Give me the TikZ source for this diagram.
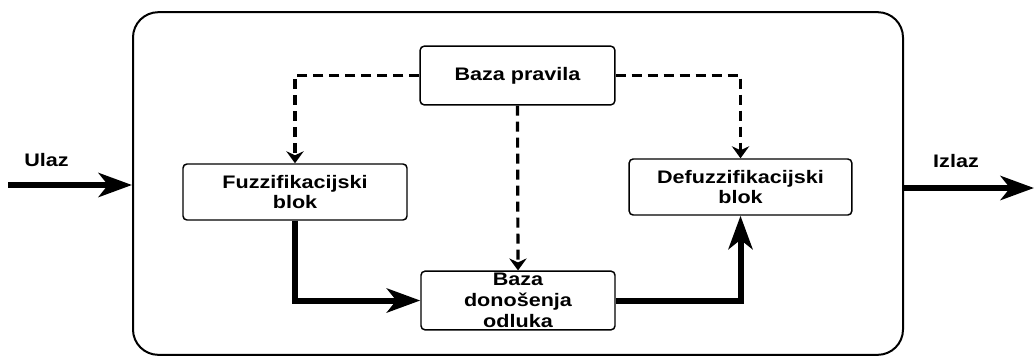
\documentclass[tikz,border=0pt]{standalone}
\usepackage{fontspec}
\newfontfamily\dijagram[FakeStretch=1.19]{Liberation Sans}
\usepackage{tikz}
\usetikzlibrary{positioning}
\usetikzlibrary{arrows.meta}

\begin{document}
\begin{tikzpicture}[
        x=0.75pt, y=-0.75pt,
        every node/.style={font=\dijagram\bfseries\fontsize{13.6}{15.5}\selectfont},
        blok/.style={rectangle, draw=black, line width=1.1pt, rounded corners=3pt,
                     align=center, inner sep=0pt},
        sistem/.style={rectangle, draw=black, line width=1.5pt, rounded corners=19pt,
                       minimum width=577.5pt, minimum height=257pt},
        tok/.style={line width=4.5pt, -{Stealth[length=25pt, width=18pt, inset=7pt]}},
        pravilo/.style={line width=2.4pt, dash pattern=on 7.5pt off 4.5pt,
                        -{Stealth[length=9pt, width=13pt, inset=3pt]}}
    ]
    \useasboundingbox (0,0) rectangle (1034,358);

    % Sistem
    \node[sistem] at (518,183.5) (sistem) {};

    % Blokovi
    \node[blok, minimum width=146pt, minimum height=44pt] at (517.5,75.5) (pravila) {Baza pravila};
    \node[blok, minimum width=168pt, minimum height=42pt] at (295,192) (fuzz) {Fuzzifikacijski\\blok};
    \node[blok, minimum width=145.5pt, minimum height=44pt] at (518,300.5) (odluka) {Baza\\donošenja\\odluka};
    \node[blok, minimum width=167pt, minimum height=42pt] at (740.5,187) (defuzz) {Defuzzifikacijski\\blok};

    % Ulaz i izlaz
    \coordinate (ulazpoc) at (8,185);
    \coordinate (izlazkraj) at (1034,188);
    \node at (46.5,160) (ulaz) {Ulaz};
    \node at (956,161) (izlaz) {Izlaz};

    % Strelice
    \draw[tok] (ulazpoc) -- (ulazpoc -| sistem.west);
    \draw[tok] (izlazkraj -| sistem.east) -- (izlazkraj);
    \draw[tok] (fuzz.south) |- (odluka.west);
    \draw[tok] (odluka.east) -| (defuzz.south);

    % Pravila
    \draw[pravilo] (pravila.west) -| (fuzz.north);
    \draw[pravilo] (pravila.east) -| (defuzz.north);
    \draw[pravilo] (pravila.south) -- (odluka.north);

\end{tikzpicture}
\end{document}
